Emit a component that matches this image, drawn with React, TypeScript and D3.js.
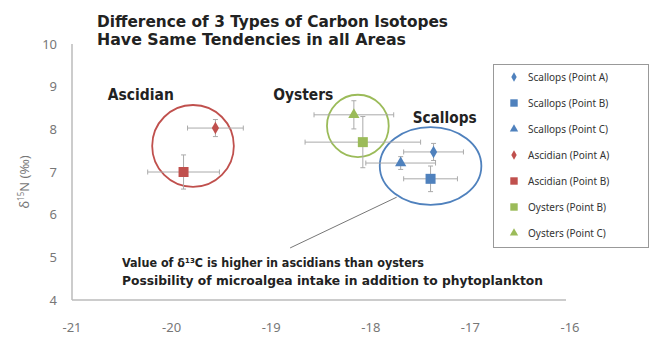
import React from "react";
import * as d3 from "d3";

const W = 650;
const H = 341;

const seriesNames = [
  "Scallops (Point A)",
  "Scallops (Point B)",
  "Scallops (Point C)",
  "Ascidian (Point A)",
  "Ascidian (Point B)",
  "Oysters (Point B)",
  "Oysters (Point C)",
];
const carbonValues = [-17.37, -17.4, -17.7, -19.56, -19.88, -18.08, -18.17];
const nitrogenValues = [7.47, 6.84, 7.21, 8.03, 7.0, 7.7, 8.34];
const carbonErrors = [0.3, 0.27, 0.35, 0.28, 0.36, 0.58, 0.4];
const nitrogenErrors = [0.2, 0.3, 0.15, 0.2, 0.4, 0.6, 0.33];
const seriesShapes = ["diamond", "square", "triangle", "diamond", "square", "square", "triangle"];
const seriesGroups = ["Scallops", "Scallops", "Scallops", "Ascidian", "Ascidian", "Oysters", "Oysters"];

const xTicks = [-21, -20, -19, -18, -17, -16];
const yTicks = [4, 5, 6, 7, 8, 9, 10];

const groupNames = ["Ascidian", "Oysters", "Scallops"];
const groupCircleCx = [-19.785, -18.13, -17.4];
const groupCircleCy = [7.61, 8.08, 7.14];
const groupCircleRx = [0.41, 0.31, 0.51];
const groupCircleRy = [0.96, 0.73, 0.91];
const groupLabelX = [-20.64, -18.98, -17.58];
const groupLabelY = [8.69, 8.69, 8.15];

const titleLines = ["Difference of 3 Types of Carbon Isotopes", "Have Same Tendencies in all Areas"];
const noteLines = ["Value of δ¹³C is higher in ascidians than oysters", "Possibility of microalgea intake in addition to phytoplankton"];
const calloutFrom = [-17.74, 6.41];
const calloutTo = [-18.81, 5.22];

const colors: Record<string, string> = {
  Scallops: "#4f81bd",
  Ascidian: "#c0504d",
  Oysters: "#9bbb59",
};

const symbolTypes: Record<string, d3.SymbolType> = {
  diamond: d3.symbolDiamond,
  square: d3.symbolSquare,
  triangle: d3.symbolTriangle,
};
const symbolSizes: Record<string, number> = { diamond: 45, square: 100, triangle: 55 };

export default function App() {
  const x = d3.scaleLinear().domain([-21, -16]).range([72, 570]);
  const y = d3.scaleLinear().domain([4, 10]).range([300, 44]);
  const cap = 2.5;
  const sym = (s: string, scale = 1) =>
    d3.symbol().type(symbolTypes[s]).size(symbolSizes[s] * scale)() as string;

  return (
    <svg width={W} height={H} style={{ position: "absolute", left: 0, top: 0, background: "#fff" }}>
      {/* title */}
      <g fontFamily="DejaVu Sans" fontWeight="bold" fill="#222" fontSize={16}>
        <text x={97} y={27} textLength={351} lengthAdjust="spacingAndGlyphs">{titleLines[0]}</text>
        <text x={97} y={45} textLength={309} lengthAdjust="spacingAndGlyphs">{titleLines[1]}</text>
      </g>

      {/* axes */}
      <line x1={x(-21)} x2={x(-21)} y1={y(10)} y2={y(4)} stroke="#bbb" strokeWidth={1.5} />
      <line x1={x(-21)} x2={x(-16) - 4} y1={y(4)} y2={y(4)} stroke="#bbb" strokeWidth={1.5} />

      <g fontFamily="Noto Sans" fontSize={13} fill="#777">
        {yTicks.map((t) => (
          <text key={t} x={57} y={y(t)} dy="0.35em" textAnchor="end">{t}</text>
        ))}
        {xTicks.map((t) => (
          <text key={t} x={x(t)} y={332} textAnchor="middle">{t}</text>
        ))}
      </g>
      <text transform="translate(29,182) rotate(-90)" textAnchor="middle" fontFamily="Noto Sans" fontSize={13} fill="#777">
        δ<tspan fontSize={8} dy={-5}>15</tspan><tspan dy={5}>N (‰)</tspan>
      </text>

      {/* group ellipses */}
      {groupNames.map((g, i) => (
        <ellipse
          key={g}
          cx={x(groupCircleCx[i])}
          cy={y(groupCircleCy[i])}
          rx={x(groupCircleCx[i] + groupCircleRx[i]) - x(groupCircleCx[i])}
          ry={y(groupCircleCy[i] - groupCircleRy[i]) - y(groupCircleCy[i])}
          fill="none"
          stroke={colors[g]}
          strokeWidth={1.8}
        />
      ))}

      {/* error bars */}
      <g stroke="#aaa" strokeWidth={1}>
        {seriesNames.map((n, i) => {
          const cx = x(carbonValues[i]);
          const cy = y(nitrogenValues[i]);
          const x0 = x(carbonValues[i] - carbonErrors[i]);
          const x1 = x(carbonValues[i] + carbonErrors[i]);
          const y0 = y(nitrogenValues[i] - nitrogenErrors[i]);
          const y1 = y(nitrogenValues[i] + nitrogenErrors[i]);
          return (
            <g key={n}>
              <line x1={x0} x2={x1} y1={cy} y2={cy} />
              <line x1={x0} x2={x0} y1={cy - cap} y2={cy + cap} />
              <line x1={x1} x2={x1} y1={cy - cap} y2={cy + cap} />
              <line x1={cx} x2={cx} y1={y0} y2={y1} />
              <line x1={cx - cap} x2={cx + cap} y1={y0} y2={y0} />
              <line x1={cx - cap} x2={cx + cap} y1={y1} y2={y1} />
            </g>
          );
        })}
      </g>

      {/* markers */}
      {seriesNames.map((n, i) => (
        <path
          key={n}
          d={sym(seriesShapes[i])}
          transform={`translate(${x(carbonValues[i])},${y(nitrogenValues[i])})`}
          fill={colors[seriesGroups[i]]}
        />
      ))}

      {/* group labels */}
      <g fontFamily="DejaVu Sans" fontWeight="bold" fontSize={15} fill="#222">
        {groupNames.map((g, i) => (
          <text key={g} x={x(groupLabelX[i])} y={y(groupLabelY[i])} textLength={g === "Ascidian" ? 66 : g === "Oysters" ? 60 : 64} lengthAdjust="spacingAndGlyphs">{g}</text>
        ))}
      </g>

      {/* callout */}
      <line
        x1={x(calloutFrom[0])}
        y1={y(calloutFrom[1])}
        x2={x(calloutTo[0])}
        y2={y(calloutTo[1])}
        stroke="#777"
        strokeWidth={1}
      />
      <g fontFamily="DejaVu Sans" fontWeight="bold" fontSize={12} fill="#222">
        <text x={122} y={267} textLength={302} lengthAdjust="spacingAndGlyphs">{noteLines[0]}</text>
        <text x={122} y={285} textLength={421} lengthAdjust="spacingAndGlyphs">{noteLines[1]}</text>
      </g>

      {/* legend */}
      <rect x={493.5} y={64.5} width={155} height={183} fill="#fff" stroke="#999" strokeWidth={1} />
      {seriesNames.map((n, i) => (
        <g key={n} transform={`translate(0,${77 + i * 26})`}>
          <path d={sym(seriesShapes[i], 0.55)} transform="translate(514,0)" fill={colors[seriesGroups[i]]} />
          <text x={528} y={0} dy="0.35em" fontFamily="Noto Sans" fontSize={10} fill="#333">{n}</text>
        </g>
      ))}
    </svg>
  );
}
